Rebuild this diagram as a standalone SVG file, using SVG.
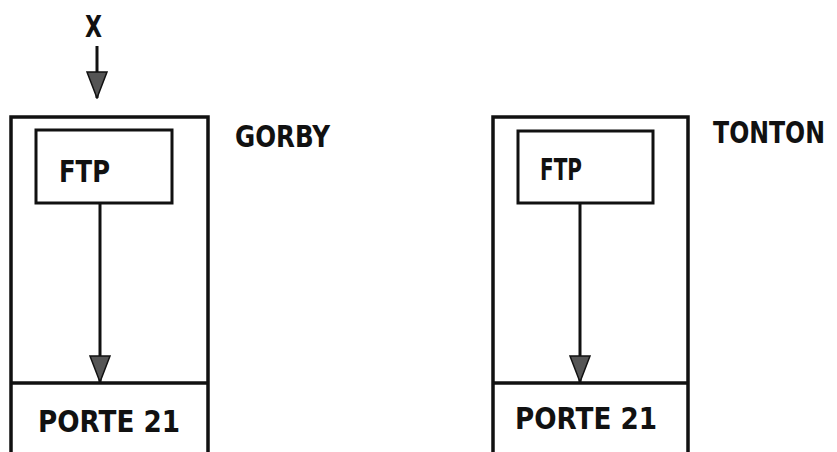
<svg xmlns="http://www.w3.org/2000/svg" width="837" height="452" viewBox="0 0 837 452">
<style>
.box{fill:none;stroke:#111;stroke-width:3.5}
.inner{fill:none;stroke:#111;stroke-width:3}
.lbl{font-family:"DejaVu Sans Condensed","DejaVu Sans",sans-serif;font-weight:bold;fill:#111;font-size:30px}
.conn{stroke:#111;stroke-width:3;fill:none}
</style>
<defs>
<marker id="ah" viewBox="0 0 28 22" refX="27" refY="11" markerWidth="28" markerHeight="22" markerUnits="userSpaceOnUse" orient="auto">
<path d="M1,1 L27,11 L1,21 Z" fill="#555" stroke="#111" stroke-width="1.5"/>
</marker>
</defs>
<rect width="837" height="452" fill="#fff"/>
<g id="gorby">
<path class="box" d="M11,452 L11,117 L208,117 L208,452"/>
<line class="box" x1="11" y1="383" x2="208" y2="383"/>
<text class="lbl" x="235" y="147" textLength="95" lengthAdjust="spacingAndGlyphs" font-size="29">GORBY</text>
</g>
<g id="ftp-gorby">
<rect class="inner" x="36" y="130" width="136" height="73"/>
<text class="lbl" x="59" y="182" textLength="51" lengthAdjust="spacingAndGlyphs">FTP</text>
</g>
<g id="porte-gorby">
<text class="lbl" x="38" y="432" textLength="142" lengthAdjust="spacingAndGlyphs">PORTE 21</text>
</g>
<g id="tonton">
<path class="box" d="M493,452 L493,117 L688,117 L688,452"/>
<line class="box" x1="493" y1="383" x2="688" y2="383"/>
<text class="lbl" x="713" y="143" textLength="112" lengthAdjust="spacingAndGlyphs" font-size="26">TONTON</text>
</g>
<g id="ftp-tonton">
<rect class="inner" x="518" y="131" width="135" height="72"/>
<text class="lbl" x="540" y="180" textLength="42" lengthAdjust="spacingAndGlyphs">FTP</text>
</g>
<g id="porte-tonton">
<text class="lbl" x="515" y="429" textLength="142" lengthAdjust="spacingAndGlyphs">PORTE 21</text>
</g>
<g id="x-label">
<text class="lbl" x="85" y="37" textLength="17" lengthAdjust="spacingAndGlyphs">X</text>
</g>
<g id="connectors">
<line class="conn" x1="97" y1="46" x2="97" y2="98" marker-end="url(#ah)"/>
<line class="conn" x1="100" y1="203" x2="100" y2="382" marker-end="url(#ah)"/>
<line class="conn" x1="580" y1="203" x2="580" y2="382" marker-end="url(#ah)"/>
</g>
</svg>
